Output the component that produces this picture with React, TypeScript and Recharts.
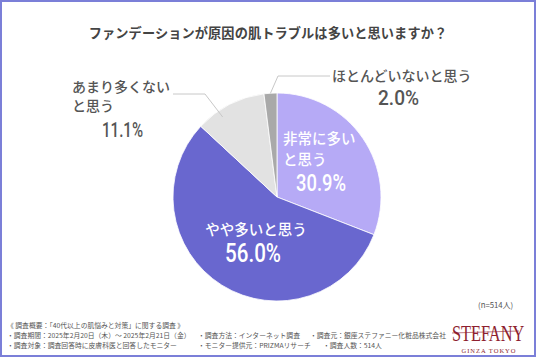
import { PieChart, Pie, Cell } from "recharts";

const answers = ["非常に多いと思う", "やや多いと思う", "あまり多くないと思う", "ほとんどいないと思う"];
const shares = [30.9, 56.0, 11.1, 2.0];
const colors = ["#b6aaf6", "#6967cf", "#e2e2e2", "#a9a9a9"];

const title = "ファンデーションが原因の肌トラブルは多いと思いますか？";
const sampleNote = "(n=514人)";
const footerLines = [
  ["《 調査概要：「40代以上の肌悩みと対策」に関する調査 》"],
  ["・調査期間：2025年2月20日（木）～ 2025年2月21日（金）", "・調査方法：インターネット調査", "・調査元：銀座ステファニー化粧品株式会社"],
  ["・調査対象：調査回答時に皮膚科医と回答したモニター", "・モニター提供元：PRIZMAリサーチ", "・調査人数：514人"],
];

const data = answers.map((name, i) => ({ name, value: shares[i] }));

const JP = '"Noto Sans CJK JP", "Noto Sans", sans-serif';
const NUM = 'Roboto, "Noto Sans", sans-serif';
const SERIF = '"Liberation Serif", "DejaVu Serif", serif';
const GREY_TEXT = "#555";

const renderLabel = (props: any) => {
  const { cx, cy, midAngle, outerRadius, index, value } = props;
  const pct = `${Number(value).toFixed(1)}%`;
  const rad = Math.PI / 180;

  if (index === 0) {
    return (
      <g>
        <text x={cx + 6} y={cy - 60} fill="#fff" fontFamily={JP} fontSize={14.5} fontWeight={500} dominantBaseline="central">非常に多い</text>
        <text x={cx + 6} y={cy - 39} fill="#fff" fontFamily={JP} fontSize={14.5} fontWeight={500} dominantBaseline="central">と思う</text>
        <text x={cx + 19} y={cy - 14} fill="#fff" fontFamily={NUM} fontSize={24} fontWeight={500} textLength={50} lengthAdjust="spacingAndGlyphs" dominantBaseline="central">{pct}</text>
      </g>
    );
  }
  if (index === 1) {
    return (
      <g>
        <text x={cx - 21} y={cy + 31} fill="#fff" fontFamily={JP} fontSize={14.5} fontWeight={500} textAnchor="middle" dominantBaseline="central">やや多いと思う</text>
        <text x={cx - 52} y={cy + 56} fill="#fff" fontFamily={NUM} fontSize={26} fontWeight={500} textLength={56} lengthAdjust="spacingAndGlyphs" dominantBaseline="central">{pct}</text>
      </g>
    );
  }
  if (index === 2) {
    // leader: from inside the slice out to an elbow, then horizontal to the text
    const a = (midAngle + 7) * rad;
    const ex = cx + outerRadius * 0.93 * Math.cos(a);
    const ey = cy - outerRadius * 0.93 * Math.sin(a);
    const ly = cy - 103;
    return (
      <g>
        <polyline points={`${ex},${ey} ${cx - 72},${ly} ${cx - 104},${ly}`} fill="none" stroke="#c8c8c8" strokeWidth={1} />
        <text x={cx - 205} y={cy - 111} fill={GREY_TEXT} fontFamily={JP} fontSize={14} fontWeight={500} dominantBaseline="central">あまり多くない</text>
        <text x={cx - 205} y={cy - 92} fill={GREY_TEXT} fontFamily={JP} fontSize={14} fontWeight={500} dominantBaseline="central">と思う</text>
        <text x={cx - 175} y={cy - 67} fill={GREY_TEXT} fontFamily={NUM} fontSize={21} fontWeight={500} textLength={41} lengthAdjust="spacingAndGlyphs" dominantBaseline="central">{pct}</text>
      </g>
    );
  }
  const a = midAngle * rad;
  const ex = cx + outerRadius * Math.cos(a);
  const ey = cy - outerRadius * Math.sin(a);
  const ly = cy - 121;
  return (
    <g>
      <polyline points={`${ex},${ey} ${cx + 1},${ly} ${cx + 53},${ly}`} fill="none" stroke="#c8c8c8" strokeWidth={1} />
      <text x={cx + 55} y={cy - 122} fill={GREY_TEXT} fontFamily={JP} fontSize={14} fontWeight={500} dominantBaseline="central">ほとんどいないと思う</text>
      <text x={cx + 101} y={cy - 99} fill={GREY_TEXT} fontFamily={NUM} fontSize={21} fontWeight={500} textLength={41} lengthAdjust="spacingAndGlyphs" dominantBaseline="central">{pct}</text>
    </g>
  );
};

export default function App() {
  const footTop = [325, 335, 345];
  const footCols = [7, 198, 310];
  return (
    <div
      style={{
        position: "absolute",
        left: 0,
        top: 0,
        width: 536,
        height: 357,
        boxSizing: "border-box",
        border: "2px solid #7b7fd8",
        background: "#fff",
        fontFamily: JP,
        overflow: "hidden",
      }}
    >
      <div
        style={{
          position: "absolute",
          left: 0,
          top: 22,
          width: 532,
          textAlign: "center",
          fontSize: 13.2,
          fontWeight: 700,
          color: "#444",
          lineHeight: "18px",
          letterSpacing: 0.1,
        }}
      >
        {title}
      </div>

      <div style={{ position: "absolute", left: -2, top: -2 }}>
        <PieChart width={536} height={357}>
          <Pie
            data={data}
            dataKey="value"
            nameKey="name"
            cx={272}
            cy={192}
            outerRadius={104}
            startAngle={90}
            endAngle={-270}
            stroke="#fff"
            strokeWidth={0.8}
            label={renderLabel}
            labelLine={false}
            isAnimationActive={false}
          >
            {data.map((d, i) => (
              <Cell key={d.name} fill={colors[i]} />
            ))}
          </Pie>
        </PieChart>
      </div>

      <div style={{ position: "absolute", left: 476, top: 298, fontSize: 7.8, color: "#555", lineHeight: "10px", whiteSpace: "nowrap" }}>
        {sampleNote}
      </div>

      {footerLines.map((row, r) =>
        row.map((t, c) => (
          <div
            key={`${r}-${c}`}
            style={{
              position: "absolute",
              left: footCols[c] + (r === 2 && c === 2 ? 13 : 0) - 2,
              top: footTop[r] - 7,
              fontSize: 6.8,
              lineHeight: "10px",
              color: "#555",
              whiteSpace: "nowrap",
            }}
          >
            {t}
          </div>
        ))
      )}

      <svg style={{ position: "absolute", left: 440, top: 316 }} width={90} height={38}>
        <g transform="translate(10,23) scale(0.68,1)">
          <text x={0} y={0} fontFamily={SERIF} fontSize={24} fill="#8e1f30">
            STEFANY
          </text>
        </g>
        <line x1={10} y1={15} x2={77} y2={13} stroke="#8e1f30" strokeWidth={0.6} />
        <text x={47} y={35} fontFamily={SERIF} fontSize={6.5} fill="#8e1f30" textAnchor="middle" letterSpacing={1}>
          GINZA TOKYO
        </text>
      </svg>
    </div>
  );
}
